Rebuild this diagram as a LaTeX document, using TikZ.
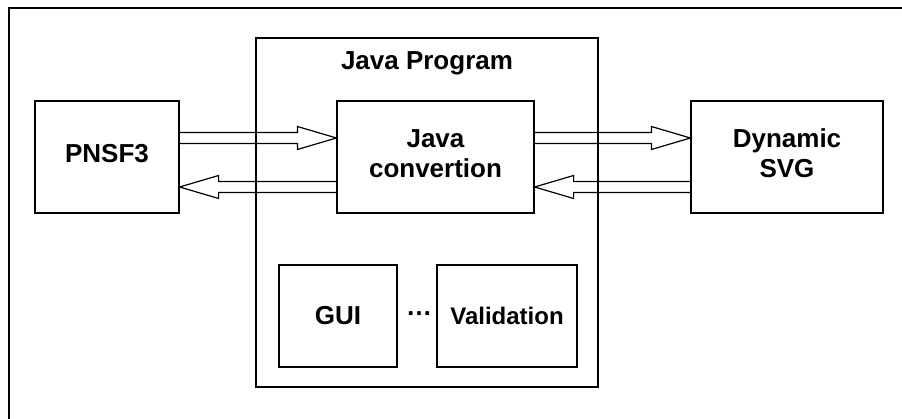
\documentclass[tikz,border=0pt]{standalone}
\usepackage{fontspec}
\setmainfont{Liberation Sans}
\usetikzlibrary{positioning, calc}

\tikzset{
  block/.style={draw, line width=1.2pt, inner sep=0pt, align=center},
  fat/.style={draw, line width=1.2pt, line join=miter},
  frame/.style={line width=2.2pt}
}
% hollow arrow between two points on one horizontal line
\newcommand{\fatarrow}[2]{%
  \path[fat] let \p1=(#1), \p2=(#2), \p3=($(\p2)!39pt!(\p1)$) in
    (\x1,\y1+5.5pt) -- (\x3,\y1+5.5pt) -- (\x3,\y1+11.5pt) -- (\x2,\y2)
    -- (\x3,\y1-11.5pt) -- (\x3,\y1-5.5pt) -- (\x1,\y1-5.5pt);}

\begin{document}
\begin{tikzpicture}[x=1pt, y=-1pt, on grid,
    font=\bfseries\fontsize{26}{30}\selectfont]
  \useasboundingbox (0,0) rectangle (902,419);
  \draw[frame] (9,419) -- (9,7.7) -- (902,7.7);

  \node[block, minimum width=342pt, minimum height=349pt] (jprog) at (427,212.5) {};
  \node[anchor=base] (title) at ([yshift=-32pt]jprog.north) {Java Program};

  \node[block, minimum width=144pt, minimum height=112pt] (pnsf) at (107,157) {\strut PNSF3};
  \node[block, minimum width=197pt, minimum height=112pt] (conv) [right=328.5pt of pnsf] {\strut Java\\\strut convertion};
  \node[block, minimum width=192pt, minimum height=112pt] (svg) [right=351.5pt of conv] {\strut Dynamic\\\strut SVG};

  \node[block, minimum width=118pt, minimum height=102pt] (gui) at (338,316) {GUI};
  \node[block, minimum width=140pt, minimum height=102pt,
        font=\bfseries\fontsize{24}{28}\selectfont] (valid) [right=169pt of gui] {Validation};
  \node[anchor=base] (dots) at (419,316) {\ldots};

  \fatarrow{[yshift=19pt]pnsf.east}{[yshift=19pt]conv.west}
  \fatarrow{[yshift=-30pt]conv.west}{[yshift=-30pt]pnsf.east}
  \fatarrow{[yshift=19pt]conv.east}{[yshift=19pt]svg.west}
  \fatarrow{[yshift=-30pt]svg.west}{[yshift=-30pt]conv.east}
\end{tikzpicture}
\end{document}
